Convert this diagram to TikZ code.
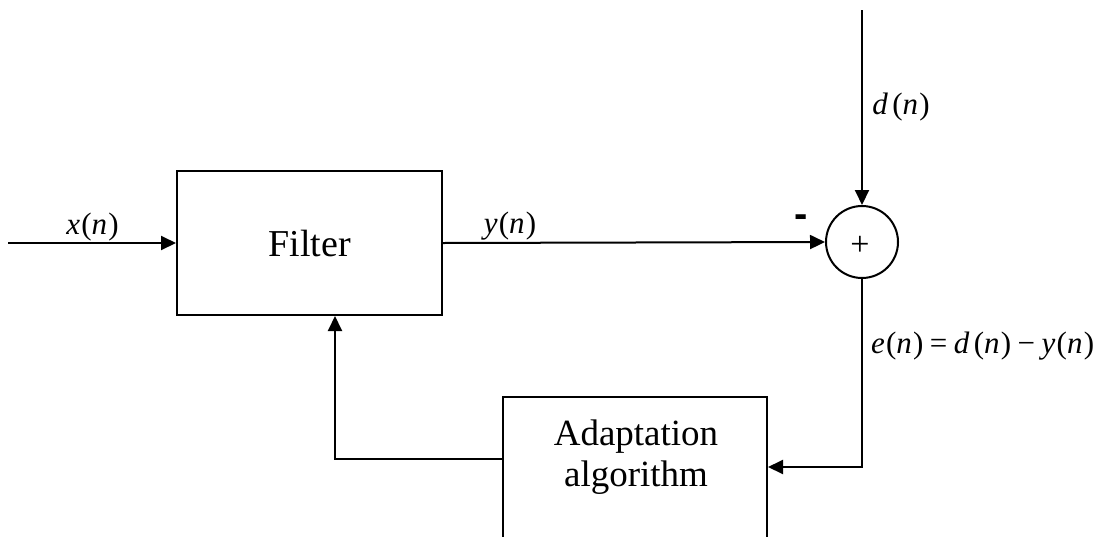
\documentclass[tikz,border=0pt]{standalone}
\usepackage{fontspec}
\setmainfont{Liberation Serif}
\newfontfamily\signsans{Liberation Sans}
\usetikzlibrary{arrows.meta}
% italic signal letter with a little extra room after it
\newcommand{\sv}[1]{\textit{#1}\kern.04em}
\begin{document}
\begin{tikzpicture}[x=0.5pt,y=-0.5pt,line width=1pt,
  >={Triangle[length=7.5pt,width=7pt]},
  blockbox/.style={draw,rectangle,inner sep=0pt},
  blocktext/.style={inner sep=0pt,font=\fontsize{18.5}{20.5}\selectfont},
  sig/.style={inner sep=0pt,font=\fontsize{15.5}{17}\selectfont},
  conn/.style={->}]
\useasboundingbox (0,0) rectangle (1108,536);
\clip (0,0) rectangle (1108,536);

% blocks
\node[blockbox,blocktext,font=\fontsize{19}{21}\selectfont,minimum width=132.5pt,minimum height=72pt] (filter) at (309.5,243) {\raisebox{-2.4pt}{Filter}};
\node[draw,circle,minimum size=36pt,inner sep=0pt] (sum) at (862,242) {};
\node[inner sep=0pt,font=\fontsize{17}{17}\selectfont] (plus) at (860,246) {+};
\node[blockbox,minimum width=132pt,minimum height=100pt,anchor=north] (adapt) at (635,396) {};
% base of a two-line node is the baseline of its last line
\node[blocktext,align=center,anchor=base] (adapttext) at (636,486) {Adaptation\\algorithm};

% free ends and corners
\coordinate (xin) at (8,243);
\coordinate (dtop) at (862,10);
\coordinate (ecorner) at (862,467);
\coordinate (fbcorner) at (335,459);

% connectors
\draw[conn] (xin) -- (filter.west);
\draw[conn] (filter.east) -- (sum.west);
\draw[conn] (dtop) -- (sum.north);
\draw[conn] (sum.south) -- (ecorner) -- (ecorner -| adapt.east);
\draw[conn] (fbcorner -| adapt.west) -- (fbcorner) -- (fbcorner |- filter.south);

% signal labels
\node[sig] (xlab) at (92.5,227) {\sv{x}(\sv{n})};
\node[sig] (ylab) at (510,226) {\sv{y}(\sv{n})};
\node[sig] (dlab) at (901,107) {\sv{d}\kern.1em(\sv{n})};
\node[sig,anchor=west] (elab) at (870,346) {\sv{e}(\sv{n})\kern.21em=\kern.21em\sv{d}\kern.1em(\sv{n})\kern.21em−\kern.21em\sv{y}(\sv{n})};
\node[inner sep=0pt,font=\signsans\bfseries\fontsize{20}{20}\selectfont] (minus) at (801,221) {-};
\end{tikzpicture}
\end{document}
